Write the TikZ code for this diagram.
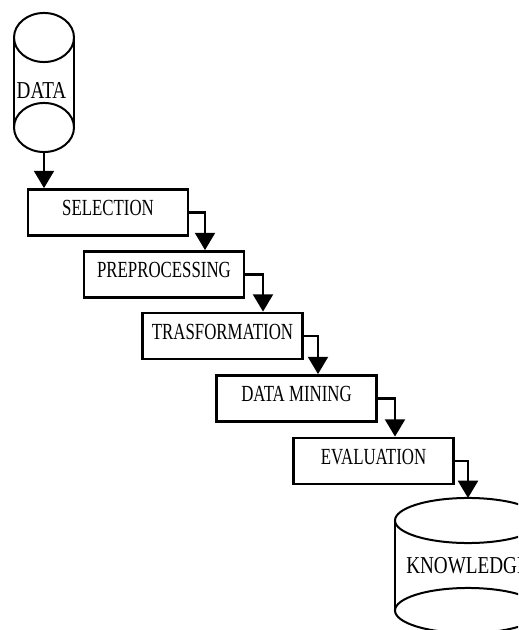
\documentclass[tikz,border=0pt]{standalone}
\usepackage{fontspec}
\setmainfont{Liberation Serif}
\newfontfamily\boxfont[FakeStretch=0.73]{Liberation Serif}
\newfontfamily\cylfont[FakeStretch=0.79]{Liberation Serif}
\usetikzlibrary{arrows.meta}
\begin{document}
\begin{tikzpicture}[x=0.75pt,y=-0.75pt,
  stepbox/.style={draw,line width=2.1pt,minimum width=120pt,minimum height=34.5pt,inner sep=0pt,
    text height=11.5pt,text depth=6.5pt,font=\boxfont\fontsize{17.3pt}{20pt}\selectfont},
  conn/.style={line width=1.7pt,-{Triangle[width=15pt,length=13pt]}},
  cyl/.style={line width=1.5pt},
  cyltext/.style={inner sep=0pt,text depth=0pt,font=\cylfont\fontsize{18.2pt}{21pt}\selectfont},
  ghost/.style={inner sep=0pt,outer sep=0pt}]
\useasboundingbox (0,0) rectangle (518,630);
\clip (0,0) rectangle (518,630);
% DATA cylinder
\draw[cyl] (44,37.5) ellipse [x radius=22.5pt, y radius=18.4pt];
\draw[cyl] (44,127.5) ellipse [x radius=22.5pt, y radius=18.4pt];
\draw[cyl] (14,37.5) -- (14,127.5);
\draw[cyl] (74,37.5) -- (74,127.5);
\node[ghost,minimum width=45pt,minimum height=104pt] (data) at (44,82.5) {};
\node[cyltext] (datatxt) at (41.5,90) {DATA};
% steps
\node[stepbox] (sel) at (108,212.5) {SELECTION};
\node[stepbox] (pre) at (164,274.5) {PREPROCESSING};
\node[stepbox] (tra) at (222.5,336) {TRASFORMATION};
\node[stepbox] (dm) at (296.5,398.5) {DATA MINING};
\node[stepbox] (eva) at (373.5,461) {EVALUATION};
% KNOWLEDGE cylinder
\draw[cyl] (468,520.5) ellipse [x radius=54.75pt, y radius=16.9pt];
\draw[cyl] (468,610.5) ellipse [x radius=54.75pt, y radius=16.9pt];
\draw[cyl] (395,520.5) -- (395,610.5);
\draw[cyl] (541,520.5) -- (541,610.5);
\node[ghost,anchor=north,minimum width=109.5pt,minimum height=101pt] (know) at (468,498) {};
\node[cyltext,anchor=west] (knowtxt) at (406,565) {KNOWLEDGE};
% connector x positions
\coordinate (c1) at (205,0);
\coordinate (c2) at (263,0);
\coordinate (c3) at (318,0);
\coordinate (c4) at (395,0);
\coordinate (c5) at (468,0);
% connectors
\draw[conn] (data.south) -- (sel.north -| data.south);
\draw[conn] (sel.east) -| (pre.north -| c1);
\draw[conn] (pre.east) -| (tra.north -| c2);
\draw[conn] (tra.east) -| (dm.north -| c3);
\draw[conn] (dm.east) -| (eva.north -| c4);
\draw[conn] (eva.east) -| (know.north -| c5);
\end{tikzpicture}
\end{document}
